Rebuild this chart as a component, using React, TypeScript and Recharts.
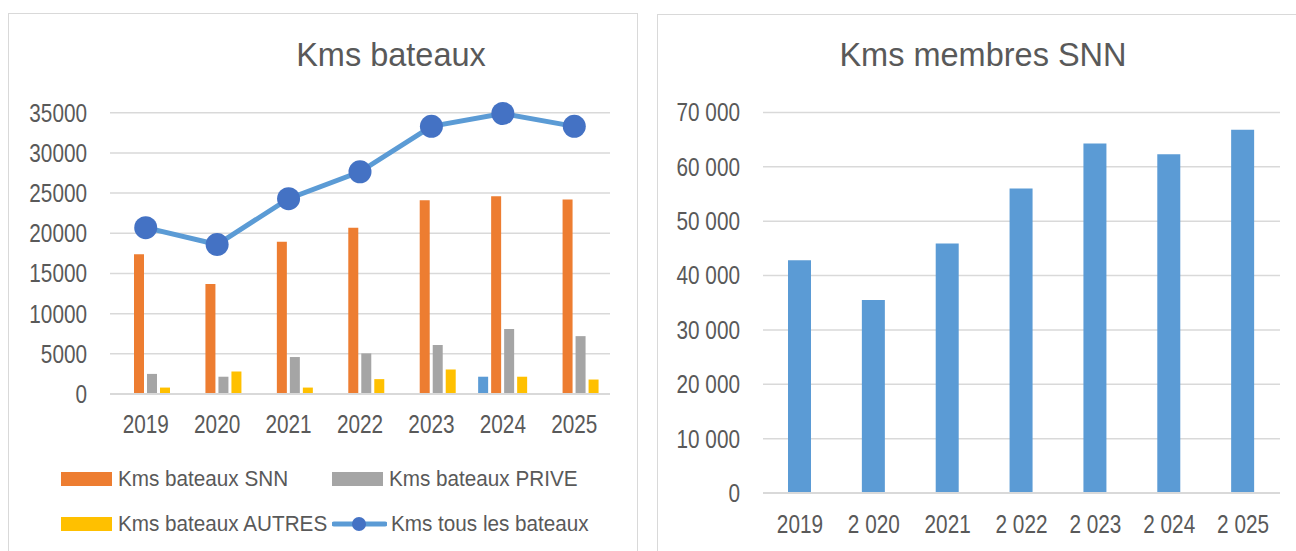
import {
  ComposedChart,
  BarChart,
  Bar,
  Line,
  XAxis,
  YAxis,
  CartesianGrid,
  Legend,
} from 'recharts'

const years = ['2019', '2020', '2021', '2022', '2023', '2024', '2025']
const kmsSnn = [17400, 13700, 18950, 20700, 24100, 24600, 24200]
const kmsPrive = [2500, 2150, 4600, 5050, 6100, 8100, 7200]
const kmsAutres = [800, 2800, 800, 1850, 3050, 2150, 1800]
const kmsTous = [20700, 18600, 24300, 27650, 33300, 34900, 33300]
// stray blue bar visible only in 2024
const kmsExtra = [null, null, null, null, null, 2150, null]
const leftTicks = [0, 5000, 10000, 15000, 20000, 25000, 30000, 35000]

const membresYears = ['2019', '2 020', '2021', '2 022', '2 023', '2 024', '2 025']
const kmsMembres = [42800, 35500, 45900, 56000, 64300, 62300, 66800]
const rightTicks = [0, 10000, 20000, 30000, 40000, 50000, 60000, 70000]

const legendOrder = ['Kms bateaux SNN', 'Kms bateaux PRIVE', 'Kms bateaux AUTRES', 'Kms tous les bateaux']

const bateauxData = years.map((year, i) => ({
  year,
  extra: kmsExtra[i],
  snn: kmsSnn[i],
  prive: kmsPrive[i],
  autres: kmsAutres[i],
  tous: kmsTous[i],
}))

const membresData = membresYears.map((year, i) => ({ year, membres: kmsMembres[i] }))

const textColor = '#595959'
const gridColor = '#D9D9D9'
const sans = '"Liberation Sans", Arial, sans-serif'
const tickSqueeze = 0.83
const legendSqueeze = 0.94

const formatSpace = (v: number) => (v === 0 ? '0' : v.toLocaleString('en-US').replace(/,/g, ' '))

// tick text squeezed horizontally to mimic the narrow Excel font
function NarrowTick({ x, y, payload, textAnchor, axis, formatter }: any) {
  const label = formatter ? formatter(payload.value) : payload.value
  return (
    <g transform={`translate(${x},${y})`}>
      <text
        transform={`scale(${tickSqueeze},1)`}
        textAnchor={textAnchor}
        dy={axis === 'y' ? '0.355em' : '0.71em'}
        fill={textColor}
        fontSize={25}
        fontFamily={sans}
      >
        {label}
      </text>
    </g>
  )
}

function BateauxLegend({ payload }: any) {
  const items = (payload || [])
    .filter((p: any) => legendOrder.includes(p.value))
    .sort((a: any, b: any) => legendOrder.indexOf(a.value) - legendOrder.indexOf(b.value))
  return (
    <div
      style={{
        display: 'grid',
        gridTemplateColumns: '271px 271px',
        gridAutoRows: '45px',
        fontFamily: sans,
        fontSize: 22,
        color: textColor,
      }}
    >
      {items.map((item: any) => (
        <div key={item.value} style={{ display: 'flex', alignItems: 'center', height: 14, whiteSpace: 'nowrap' }}>
          {item.type === 'line' ? (
            <svg width={55} height={16} style={{ marginRight: 4, flex: 'none' }}>
              <line x1={2} y1={8} x2={53} y2={8} stroke="#5B9BD5" strokeWidth={5} strokeLinecap="round" />
              <circle cx={27} cy={8} r={7} fill="#4472C4" />
            </svg>
          ) : (
            <div style={{ width: 51, height: 14, background: item.color, marginRight: 6, flex: 'none' }} />
          )}
          <span style={{ display: 'inline-block', transform: `scaleX(${legendSqueeze})`, transformOrigin: 'left center' }}>
            {item.value}
          </span>
        </div>
      ))}
    </div>
  )
}

const panelStyle = {
  position: 'absolute' as const,
  border: `1.5px solid ${gridColor}`,
  background: '#fff',
  boxSizing: 'border-box' as const,
}

const titleStyle = {
  position: 'absolute' as const,
  width: 400,
  textAlign: 'center' as const,
  fontFamily: sans,
  fontSize: 32.5,
  color: textColor,
  lineHeight: 1,
  whiteSpace: 'nowrap' as const,
}

export default function App() {
  return (
    <div style={{ position: 'absolute', left: 0, top: 0, width: 1296, height: 551, overflow: 'hidden', background: '#fff' }}>
      <div style={{ ...panelStyle, left: 8, top: 13, width: 630, height: 560 }} />
      <div style={{ ...panelStyle, left: 657, top: 14, width: 660, height: 560 }} />

      <div style={{ ...titleStyle, left: 391 - 200, top: 38.5 }}>Kms bateaux</div>
      <div style={{ ...titleStyle, left: 983 - 200, top: 38.5 }}>Kms membres SNN</div>

      <div style={{ position: 'absolute', left: 0, top: 0 }}>
        <ComposedChart
          width={640}
          height={551}
          data={bateauxData}
          margin={{ top: 112.7, right: 30, bottom: 97, left: 0 }}
          barSize={10}
          barGap={3}
        >
          <CartesianGrid vertical={false} stroke={gridColor} strokeWidth={1.5} />
          <XAxis
            dataKey="year"
            height={60}
            tick={<NarrowTick axis="x" />}
            tickLine={false}
            tickSize={0}
            tickMargin={21}
            axisLine={{ stroke: gridColor, strokeWidth: 2 }}
          />
          <YAxis
            width={110}
            domain={[0, 35000]}
            ticks={leftTicks}
            interval={0}
            tick={<NarrowTick axis="y" />}
            tickLine={false}
            tickSize={0}
            tickMargin={23}
            axisLine={false}
          />
          <Legend
            layout="vertical"
            align="center"
            verticalAlign="middle"
            content={<BateauxLegend />}
            wrapperStyle={{ position: 'absolute', left: 61, top: 472, width: 560 }}
          />
          <Bar dataKey="extra" name="extra" fill="#5B9BD5" legendType="none" isAnimationActive={false} />
          <Bar dataKey="snn" name="Kms bateaux SNN" fill="#ED7D31" isAnimationActive={false} />
          <Bar dataKey="prive" name="Kms bateaux PRIVE" fill="#A5A5A5" isAnimationActive={false} />
          <Bar dataKey="autres" name="Kms bateaux AUTRES" fill="#FFC000" isAnimationActive={false} />
          <Line
            type="linear"
            dataKey="tous"
            name="Kms tous les bateaux"
            stroke="#5B9BD5"
            strokeWidth={5}
            dot={{ r: 11.5, fill: '#4472C4', stroke: 'none' }}
            activeDot={false}
            legendType="line"
            isAnimationActive={false}
          />
        </ComposedChart>
      </div>

      <div style={{ position: 'absolute', left: 655, top: 0 }}>
        <BarChart
          width={641}
          height={551}
          data={membresData}
          margin={{ top: 112.4, right: 16, bottom: 0, left: 0 }}
          barSize={23}
        >
          <CartesianGrid vertical={false} stroke={gridColor} strokeWidth={1.5} />
          <XAxis
            dataKey="year"
            height={58}
            tick={<NarrowTick axis="x" />}
            tickLine={false}
            tickSize={0}
            tickMargin={22}
            axisLine={{ stroke: gridColor, strokeWidth: 2 }}
          />
          <YAxis
            width={108}
            domain={[0, 70000]}
            ticks={rightTicks}
            interval={0}
            tick={<NarrowTick axis="y" formatter={formatSpace} />}
            tickLine={false}
            tickSize={0}
            tickMargin={23}
            axisLine={false}
          />
          <Bar dataKey="membres" fill="#5B9BD5" isAnimationActive={false} />
        </BarChart>
      </div>
    </div>
  )
}
